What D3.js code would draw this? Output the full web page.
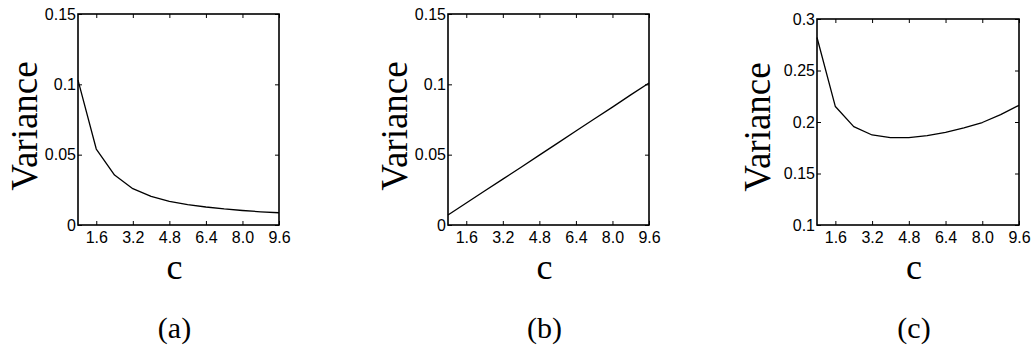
<!DOCTYPE html>
<html>
<head>
<meta charset="utf-8">
<script src="https://cdn.jsdelivr.net/npm/d3@7"></script>
<style>
  body { margin: 0; background: #fff; }
  .tick text { font-family: "Liberation Sans Narrow", "Liberation Sans", Arial, sans-serif; font-size: 16px; fill: #000; }
  .domain { display: none; }
  .serif { font-family: "Liberation Serif", "Times New Roman", Times, "DejaVu Serif", serif; fill: #000; }
</style>
</head>
<body>
<div class="chart"></div>
<script>
// c values (x) shared by the three panels
var cValues = [0.8, 1.6, 2.4, 3.2, 4.0, 4.8, 5.6, 6.4, 7.2, 8.0, 8.8, 9.6];

// variance
var varianceA = [0.103, 0.054, 0.0355, 0.0258, 0.0203, 0.0168, 0.0145, 0.0128, 0.0114, 0.0103, 0.0094, 0.0087];
var varianceB = [0.0071, 0.0156, 0.0242, 0.0326, 0.0411, 0.0497, 0.0582, 0.0668, 0.0754, 0.0838, 0.0925, 0.1010];
var varianceC = [0.282, 0.215, 0.1955, 0.1874, 0.1848, 0.1848, 0.1868, 0.1900, 0.1942, 0.1995, 0.2072, 0.2162];

var xTicks = [1.6, 3.2, 4.8, 6.4, 8.0, 9.6];
var yTicksAB = [0, 0.05, 0.1, 0.15];
var yTicksC = [0.1, 0.15, 0.2, 0.25, 0.3];
var panelLabels = ["(a)", "(b)", "(c)"];

var W = 1033, H = 346;

var svg = d3.select(".chart")
  .append("svg")
    .attr("width", W)
    .attr("height", H)
    .style("display", "block");

svg.append("rect").attr("width", W).attr("height", H).attr("fill", "#fff");

var panels = [
  {left: 78,  right: 279,  top: 14, bottom: 225, ydom: [0, 0.15],  yticks: yTicksAB, vals: varianceA, ylabOff: 41, ylabY: 126},
  {left: 448, right: 649,  top: 14, bottom: 225, ydom: [0, 0.15],  yticks: yTicksAB, vals: varianceB, ylabOff: 41, ylabY: 126},
  {left: 817, right: 1019, top: 19, bottom: 225, ydom: [0.1, 0.3], yticks: yTicksC,  vals: varianceC, ylabOff: 47, ylabY: 127}
];

panels.forEach(function(p, i) {
  var x = d3.scaleLinear().domain([0.8, 9.6]).range([p.left, p.right]);
  var y = d3.scaleLinear().domain(p.ydom).range([p.bottom, p.top]);

  var g = svg.append("g");

  // bottom axis with labels, ticks pointing inward
  g.append("g")
    .attr("transform", "translate(0," + p.bottom + ")")
    .call(d3.axisBottom(x).tickValues(xTicks).tickSize(-4).tickPadding(7)
      .tickFormat(d3.format(".1f")));
  // mirror ticks on top
  g.append("g")
    .attr("transform", "translate(0," + p.top + ")")
    .call(d3.axisTop(x).tickValues(xTicks).tickSize(-4).tickFormat(""));

  // left axis
  g.append("g")
    .attr("transform", "translate(" + p.left + ",0)")
    .call(d3.axisLeft(y).tickValues(p.yticks).tickSize(-4).tickPadding(2)
      .tickFormat(function(d) { return String(+d.toFixed(2)); }));
  // mirror ticks on right
  g.append("g")
    .attr("transform", "translate(" + p.right + ",0)")
    .call(d3.axisRight(y).tickValues(p.yticks).tickSize(-4).tickFormat(""));

  g.selectAll(".tick line").attr("stroke", "#000").attr("stroke-width", 1);

  // box
  g.append("rect")
    .attr("x", p.left).attr("y", p.top)
    .attr("width", p.right - p.left).attr("height", p.bottom - p.top)
    .attr("fill", "none").attr("stroke", "#000").attr("stroke-width", 1.6);

  // curve
  var line = d3.line()
    .x(function(d) { return x(d[0]); })
    .y(function(d) { return y(d[1]); });
  g.append("path")
    .datum(cValues.map(function(c, k) { return [c, p.vals[k]]; }))
    .attr("fill", "none")
    .attr("stroke", "#000")
    .attr("stroke-width", 1.3)
    .attr("stroke-linejoin", "round")
    .attr("d", line);

  var cx = (p.left + p.right) / 2 - 4;

  // y label
  g.append("text")
    .attr("class", "serif")
    .attr("transform", "translate(" + (p.left - p.ylabOff) + "," + p.ylabY + ") rotate(-90)")
    .attr("text-anchor", "middle")
    .style("font-size", "37px")
    .text("Variance");

  // x label
  g.append("text")
    .attr("class", "serif")
    .attr("x", cx).attr("y", 279)
    .attr("text-anchor", "middle")
    .style("font-size", "36px")
    .text("c");

  // panel label
  g.append("text")
    .attr("class", "serif")
    .attr("x", cx).attr("y", 338)
    .attr("text-anchor", "middle")
    .style("font-size", "30px")
    .text(panelLabels[i]);
});
</script>
</body>
</html>
